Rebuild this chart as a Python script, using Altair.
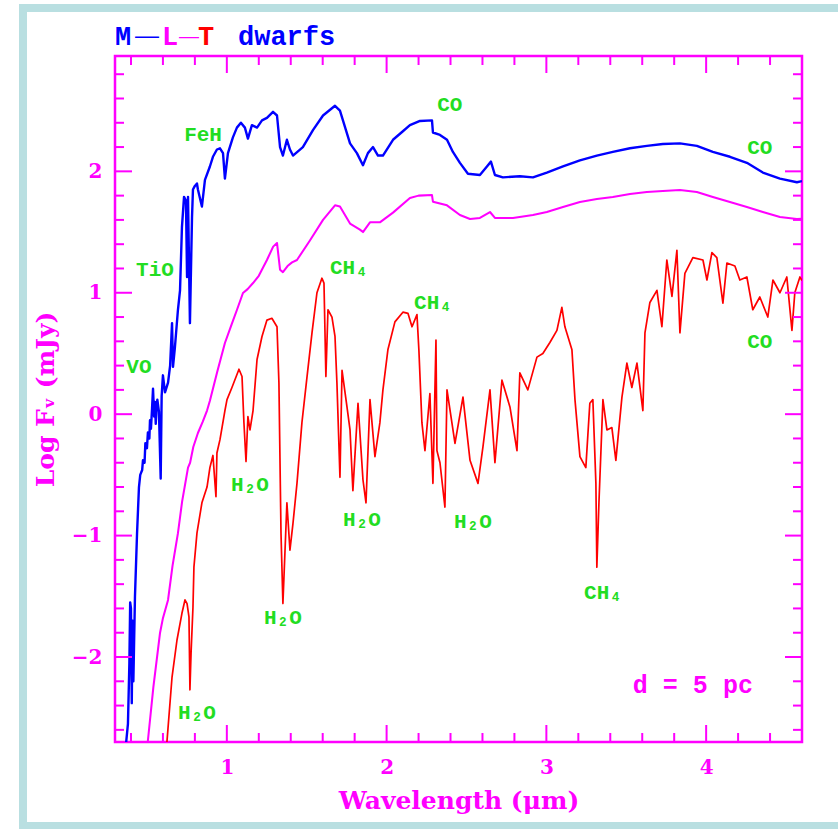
import altair as alt
import pandas as pd

# ---------------- data ----------------
m_wave = [0.37, 0.381, 0.39, 0.395, 0.40, 0.405, 0.41, 0.415, 0.425, 0.438,
          0.45, 0.458, 0.47, 0.475, 0.485, 0.49, 0.50, 0.506, 0.515, 0.519,
          0.525, 0.532, 0.538, 0.545, 0.55, 0.555, 0.56, 0.565, 0.575, 0.586,
          0.592, 0.60, 0.613, 0.632, 0.645, 0.657, 0.663, 0.675, 0.694, 0.707,
          0.719, 0.732, 0.744, 0.751, 0.757, 0.769, 0.782, 0.788, 0.80, 0.813,
          0.819, 0.844, 0.863, 0.894, 0.913, 0.938, 0.957, 0.976, 0.988, 1.007,
          1.038, 1.063, 1.088, 1.113, 1.132, 1.157, 1.189, 1.22, 1.251, 1.289,
          1.314, 1.333, 1.351, 1.376, 1.395, 1.414, 1.476, 1.539, 1.602, 1.677,
          1.708, 1.771, 1.814, 1.852, 1.883, 1.915, 1.946, 1.977, 2.04, 2.102,
          2.146, 2.209, 2.284, 2.29, 2.334, 2.378, 2.415, 2.459, 2.509, 2.584,
          2.628, 2.653, 2.678, 2.728, 2.834, 2.916, 3.003, 3.104, 3.21, 3.316,
          3.416, 3.523, 3.629, 3.729, 3.836, 3.942, 4.042, 4.149, 4.255, 4.355,
          4.462, 4.568, 4.6]
m_flux = [-2.70, -2.55, -2.05, -1.55, -1.60, -2.38, -1.70, -2.20, -1.50, -0.98,
          -0.60, -0.50, -0.46, -0.38, -0.40, -0.24, -0.28, -0.15, -0.20, -0.05,
          -0.12, 0.05, 0.21, -0.02, 0.10, -0.08, 0.05, 0.12, 0.02, -0.53,
          0.15, 0.32, 0.18, 0.26, 0.40, 0.75, 0.39, 0.55, 0.86, 1.02,
          1.54, 1.79, 1.76, 1.13, 1.79, 0.75, 1.62, 1.85, 1.88, 1.90,
          1.85, 1.71, 1.93, 2.04, 2.12, 2.18, 2.19, 2.15, 1.94, 2.15,
          2.28, 2.36, 2.40, 2.36, 2.27, 2.38, 2.36, 2.42, 2.44, 2.49,
          2.46, 2.20, 2.13, 2.26, 2.18, 2.13, 2.20, 2.34, 2.46, 2.54,
          2.50, 2.23, 2.15, 2.05, 2.15, 2.20, 2.13, 2.13, 2.26, 2.33,
          2.38, 2.415, 2.42, 2.32, 2.30, 2.26, 2.16, 2.07, 1.98, 1.97,
          2.04, 2.08, 1.97, 1.95, 1.96, 1.95, 1.99, 2.04, 2.09, 2.13,
          2.16, 2.19, 2.21, 2.225, 2.23, 2.21, 2.16, 2.12, 2.07, 1.99,
          1.94, 1.91, 1.92]

l_wave = [0.505, 0.54, 0.582, 0.60, 0.632, 0.66, 0.694, 0.72, 0.757, 0.77,
          0.79, 0.819, 0.85, 0.876, 0.894, 0.94, 0.988, 1.03, 1.063, 1.101,
          1.13, 1.164, 1.20, 1.251, 1.29, 1.314, 1.333, 1.351, 1.38, 1.408,
          1.439, 1.52, 1.602, 1.677, 1.708, 1.771, 1.833, 1.852, 1.896, 1.958,
          2.04, 2.146, 2.20, 2.284, 2.29, 2.378, 2.459, 2.522, 2.584, 2.647,
          2.678, 2.791, 2.916, 3.003, 3.104, 3.21, 3.316, 3.416, 3.523, 3.629,
          3.729, 3.836, 3.942, 4.042, 4.149, 4.255, 4.355, 4.462, 4.568, 4.6]
l_flux = [-2.70, -2.25, -1.80, -1.68, -1.53, -1.25, -0.98, -0.72, -0.44, -0.40,
          -0.27, -0.155, -0.06, 0.03, 0.11, 0.35, 0.586, 0.74, 0.858, 0.998,
          1.03, 1.08, 1.14, 1.27, 1.38, 1.41, 1.19, 1.17, 1.22, 1.25,
          1.27, 1.43, 1.60, 1.72, 1.71, 1.57, 1.52, 1.50, 1.58, 1.58,
          1.66, 1.78, 1.80, 1.805, 1.75, 1.72, 1.64, 1.607, 1.616, 1.665,
          1.616, 1.616, 1.64, 1.665, 1.706, 1.747, 1.772, 1.789, 1.813, 1.83,
          1.838, 1.846, 1.83, 1.789, 1.747, 1.706, 1.665, 1.624, 1.607, 1.61]

t_wave = [0.625, 0.657, 0.688, 0.719, 0.738, 0.751, 0.763, 0.769, 0.776, 0.788,
          0.794, 0.813, 0.844, 0.876, 0.894, 0.913, 0.932, 0.938, 0.957, 0.988,
          1.001, 1.032, 1.076, 1.095, 1.107, 1.12, 1.132, 1.145, 1.164, 1.189,
          1.22, 1.251, 1.282, 1.314, 1.326, 1.339, 1.351, 1.376, 1.395, 1.414,
          1.439, 1.47, 1.502, 1.533, 1.564, 1.595, 1.608, 1.62, 1.633, 1.658,
          1.677, 1.689, 1.708, 1.721, 1.752, 1.771, 1.789, 1.821, 1.852, 1.871,
          1.896, 1.927, 1.958, 1.977, 2.008, 2.052, 2.102, 2.134, 2.159, 2.19,
          2.202, 2.221, 2.24, 2.271, 2.29, 2.309, 2.315, 2.334, 2.365, 2.378,
          2.428, 2.478, 2.522, 2.572, 2.603, 2.647, 2.678, 2.722, 2.772, 2.816,
          2.834, 2.884, 2.941, 2.978, 3.022, 3.066, 3.097, 3.116, 3.16, 3.179,
          3.21, 3.247, 3.272, 3.291, 3.31, 3.316, 3.329, 3.354, 3.379, 3.41,
          3.435, 3.473, 3.504, 3.535, 3.567, 3.604, 3.617, 3.648, 3.692, 3.723,
          3.754, 3.786, 3.817, 3.836, 3.867, 3.917, 3.98, 4.005, 4.036, 4.067,
          4.105, 4.13, 4.18, 4.211, 4.255, 4.292, 4.336, 4.386, 4.418, 4.462,
          4.505, 4.537, 4.555, 4.587, 4.6]
t_flux = [-2.70, -2.165, -1.86, -1.64, -1.53, -1.56, -1.67, -2.27, -1.97, -1.59,
          -1.26, -0.98, -0.73, -0.60, -0.44, -0.34, -0.68, -0.32, -0.21, 0.03,
          0.12, 0.22, 0.37, 0.31, -0.07, -0.39, -0.02, -0.13, 0.03, 0.45,
          0.64, 0.775, 0.79, 0.72, 0.26, -0.98, -1.56, -0.73, -1.12, -0.90,
          -0.57, -0.07, 0.31, 0.67, 1.00, 1.12, 1.08, 0.31, 0.86, 0.80,
          0.64, 0.26, -0.52, 0.36, 0.06, -0.13, -0.63, 0.09, -0.54, -0.73,
          0.12, -0.35, -0.07, 0.20, 0.53, 0.76, 0.84, 0.83, 0.72, 0.82,
          0.53, -0.07, -0.30, 0.17, -0.57, 0.61, -0.30, -0.40, -0.765, 0.20,
          -0.24, 0.14, -0.38, -0.57, -0.27, 0.20, -0.40, 0.28, 0.06, -0.30,
          0.34, 0.20, 0.47, 0.50, 0.59, 0.69, 0.88, 0.72, 0.53, 0.12,
          -0.35, -0.44, 0.09, 0.12, -0.57, -1.26, -0.73, 0.12, -0.13, -0.11,
          -0.38, 0.14, 0.42, 0.22, 0.42, 0.03, 0.67, 0.92, 1.02, 0.72,
          1.27, 0.97, 1.35, 0.67, 1.16, 1.29, 1.27, 1.105, 1.33, 1.29,
          0.915, 1.245, 1.22, 1.105, 1.13, 0.86, 0.965, 0.80, 1.105, 1.00,
          1.13, 0.69, 1.00, 1.13, 1.10]

label_text = ["FeH", "TiO", "VO", "CO", "CO", "CH\u2084", "CH\u2084", "CO",
              "H\u2082O", "H\u2082O", "H\u2082O", "H\u2082O", "H\u2082O", "CH\u2084"]
label_wave = [0.851, 0.55, 0.45, 2.396, 4.336, 1.764, 2.29, 4.336,
              1.145, 1.351, 1.846, 2.54, 0.813, 3.354]
label_flux = [2.30, 1.19, 0.39, 2.55, 2.19, 1.20, 0.915, 0.594,
              -0.58, -1.68, -0.87, -0.89, -2.46, -1.47]

x_major = [1, 2, 3, 4]
y_major = [-2, -1, 0, 1, 2]
x_minor = [0.4, 0.6, 0.8, 1.2, 1.4, 1.6, 1.8, 2.2, 2.4, 2.6, 2.8,
           3.2, 3.4, 3.6, 3.8, 4.2, 4.4]
y_minor = [-2.6, -2.4, -2.2, -1.8, -1.6, -1.4, -1.2, -0.8, -0.6, -0.4, -0.2,
           0.2, 0.4, 0.6, 0.8, 1.2, 1.4, 1.6, 1.8, 2.2, 2.4, 2.6, 2.8]

series_names = ["M", "L", "T"]
series_colors = ["#0000FF", "#FF00FF", "#FF0000"]
series_widths = [2.4, 1.7, 2.2]

# ---------------- build tables ----------------
rows = []
for name, w, f in [("M", m_wave, m_flux), ("L", l_wave, l_flux), ("T", t_wave, t_flux)]:
    assert len(w) == len(f), name
    for i, (a, b) in enumerate(zip(w, f)):
        rows.append({"series": name, "wave": a, "flux": b, "idx": i})
spec = pd.DataFrame(rows)

labels = pd.DataFrame({"label": label_text, "wave": label_wave, "flux": label_flux})
xmaj = pd.DataFrame({"wave": x_major})
xmin = pd.DataFrame({"wave": x_minor})
ymaj = pd.DataFrame({"flux": y_major})
ymin = pd.DataFrame({"flux": y_minor})
dist = pd.DataFrame({"label": ["d = 5 pc"], "wave": [3.917], "flux": [-2.23]})
one = pd.DataFrame({"a": [0]})

W, H = 687, 686
MAG = "#FF00FF"
GREEN = "#22DD22"
BORDER = "#B9DFE1"

x_scale = alt.Scale(domain=[0.3, 4.6], nice=False, zero=False)
y_scale = alt.Scale(domain=[-2.7, 2.95], nice=False, zero=False)

x_axis = alt.Axis(values=x_major, ticks=False, domain=False, grid=False,
                  labelColor=MAG, labelFont="DejaVu Serif", labelFontSize=20,
                  labelFontWeight="bold", labelPadding=15,
                  title="Wavelength (\u03bcm)", titleColor=MAG,
                  titleFont="DejaVu Serif", titleFontSize=25, titleFontWeight="bold",
                  titleX=W / 2, titleY=58, titleBaseline="middle", titleAlign="center")
y_axis = alt.Axis(values=y_major, ticks=False, domain=False, grid=False,
                  labelColor=MAG, labelFont="DejaVu Serif", labelFontSize=20,
                  labelFontWeight="bold", labelPadding=13,
                  title="Log F\u1d65 (mJy)", titleColor=MAG,
                  titleFont="DejaVu Serif", titleFontSize=25, titleFontWeight="bold",
                  titleX=-70, titleY=H / 2, titleAngle=270, titleBaseline="middle",
                  titleAlign="center")

X = alt.X("wave:Q", scale=x_scale, axis=x_axis)
Y = alt.Y("flux:Q", scale=y_scale, axis=y_axis)

border = alt.Chart(one).mark_rect(fillOpacity=0, stroke=BORDER, strokeWidth=8).encode(
    x=alt.value(-92), x2=alt.value(760), y=alt.value(-48), y2=alt.value(770))

lines = alt.Chart(spec).mark_line(clip=True, strokeJoin="round").encode(
    x=X, y=Y, order="idx:Q",
    color=alt.Color("series:N", scale=alt.Scale(domain=series_names, range=series_colors), legend=None),
    strokeWidth=alt.StrokeWidth("series:N", scale=alt.Scale(domain=series_names, range=series_widths), legend=None),
)

TK_MAJ, TK_MIN = 17, 9
rule_kw = dict(color=MAG, strokeWidth=2)
ticks = [
    alt.Chart(xmaj).mark_rule(**rule_kw).encode(x=X, y=alt.value(H), y2=alt.value(H - TK_MAJ)),
    alt.Chart(xmaj).mark_rule(**rule_kw).encode(x=X, y=alt.value(0), y2=alt.value(TK_MAJ)),
    alt.Chart(xmin).mark_rule(**rule_kw).encode(x=X, y=alt.value(H), y2=alt.value(H - TK_MIN)),
    alt.Chart(xmin).mark_rule(**rule_kw).encode(x=X, y=alt.value(0), y2=alt.value(TK_MIN)),
    alt.Chart(ymaj).mark_rule(**rule_kw).encode(y=Y, x=alt.value(0), x2=alt.value(TK_MAJ)),
    alt.Chart(ymaj).mark_rule(**rule_kw).encode(y=Y, x=alt.value(W), x2=alt.value(W - TK_MAJ)),
    alt.Chart(ymin).mark_rule(**rule_kw).encode(y=Y, x=alt.value(0), x2=alt.value(TK_MIN)),
    alt.Chart(ymin).mark_rule(**rule_kw).encode(y=Y, x=alt.value(W), x2=alt.value(W - TK_MIN)),
]

ann = alt.Chart(labels).mark_text(font="Liberation Mono", fontWeight="bold", fontSize=21,
                                  color=GREEN, align="center", baseline="middle").encode(
    x=X, y=Y, text="label:N")

dtext = alt.Chart(dist).mark_text(font="Liberation Mono", fontWeight="bold", fontSize=25, color=MAG,
                                  align="center", baseline="middle").encode(
    x=X, y=Y, text="label:N")

tfont = dict(font="Liberation Mono", fontWeight="bold", fontSize=27, baseline="alphabetic")
title_parts = [
    alt.Chart(one).mark_text(text="M", color="#0000FF", align="left", **tfont).encode(
        x=alt.value(0), y=alt.value(-11)),
    alt.Chart(one).mark_text(text="\u2014", color="#0000FF", align="center", font="Liberation Sans",
                             fontSize=24, baseline="alphabetic").encode(x=alt.value(32), y=alt.value(-13)),
    alt.Chart(one).mark_text(text="L", color=MAG, align="left", **tfont).encode(
        x=alt.value(47), y=alt.value(-11)),
    alt.Chart(one).mark_text(text="\u2014", color=MAG, align="center", font="Liberation Sans",
                             fontSize=20, baseline="alphabetic").encode(x=alt.value(74), y=alt.value(-13)),
    alt.Chart(one).mark_text(text="T", color="#FF0000", align="left", **tfont).encode(
        x=alt.value(83), y=alt.value(-11)),
    alt.Chart(one).mark_text(text="dwarfs", color="#0000FF", align="left", **tfont).encode(
        x=alt.value(123), y=alt.value(-11)),
]

chart = alt.layer(border, lines, *ticks, ann, dtext, *title_parts).properties(
    width=W, height=H,
    padding={"left": 115, "top": 56, "right": 36, "bottom": 87},
    autosize=alt.AutoSizeParams(type="none", contains="content"),
    background="white",
).configure_view(stroke=MAG, strokeWidth=2.5)

chart.save("out.html", embed_options={"renderer": "svg", "actions": False})
